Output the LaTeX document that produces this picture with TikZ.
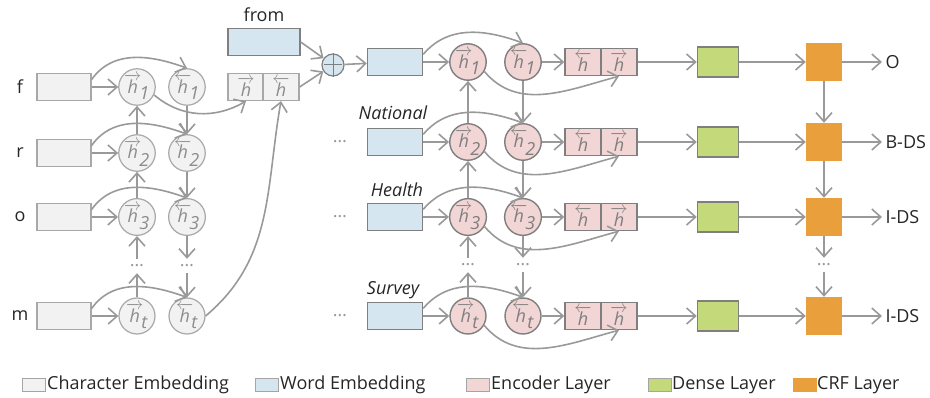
\documentclass[tikz,border=0pt]{standalone}
\usepackage{fontspec}
\setmainfont{Open Sans}
\usetikzlibrary{positioning,arrows.meta}

\definecolor{charfill}{HTML}{F2F2F2}
\definecolor{chardraw}{HTML}{A8A8A8}
\definecolor{chartext}{HTML}{8C8C8C}
\definecolor{wordfill}{HTML}{D6E6F1}
\definecolor{encfill}{HTML}{F2D5D5}
\definecolor{densefill}{HTML}{C3D97A}
\definecolor{crffill}{HTML}{E89F3C}
\definecolor{boxdraw}{HTML}{7F7F7F}
\definecolor{arrowgray}{HTML}{999999}
\definecolor{labeltext}{HTML}{262626}

\newcommand{\hf}[1]{$\overrightarrow{\textit{h}}_{\!\scriptscriptstyle\textit{#1}}$}
\newcommand{\hb}[1]{$\overleftarrow{\textit{h}}_{\!\scriptscriptstyle\textit{#1}}$}
\newcommand{\hfc}{$\overrightarrow{\textit{h}}$}
\newcommand{\hbc}{$\overleftarrow{\textit{h}}$}

\tikzset{
  charbox/.style={draw=chardraw, fill=charfill, line width=1.2pt, minimum width=54pt, minimum height=27pt, inner sep=0pt},
  charstate/.style={circle, draw=chardraw, fill=charfill, line width=1.2pt, minimum size=36pt, inner sep=0pt, text=chartext},
  charcell/.style={draw=chardraw, fill=charfill, line width=1.2pt, minimum width=36pt, minimum height=27pt, inner sep=0pt, text=chartext},
  wordbox/.style={draw=boxdraw, fill=wordfill, line width=1.4pt, minimum width=55pt, minimum height=27pt, inner sep=0pt},
  encstate/.style={circle, draw=boxdraw, fill=encfill, line width=1.4pt, minimum size=36pt, inner sep=0pt, text=boxdraw},
  enccell/.style={draw=boxdraw, fill=encfill, line width=1.4pt, minimum width=36pt, minimum height=27pt, inner sep=0pt, text=boxdraw},
  densebox/.style={draw=boxdraw, fill=densefill, line width=1.5pt, minimum width=41pt, minimum height=30pt, inner sep=0pt},
  crfbox/.style={fill=crffill, minimum width=36pt, minimum height=38pt, inner sep=0pt},
  dots/.style={text=arrowgray, minimum height=14pt, inner sep=0pt},
  letter/.style={text=labeltext},
  word/.style={text=labeltext, font=\fontsize{18}{21}\selectfont\itshape},
  legbox/.style={draw=boxdraw!70, line width=0.8pt, minimum width=23pt, minimum height=13pt, inner sep=0pt},
  legtext/.style={text=labeltext, anchor=west, inner sep=1pt},
  arr/.style={-{Straight Barb[length=9pt,width=16pt,line width=1.6pt]}}
}

\begin{document}
\begin{tikzpicture}[x=1pt,y=-1pt,on grid,font=\fontsize{18}{21}\selectfont,
  every edge/.append style={draw=arrowgray, line width=1.6pt, arr}]
\useasboundingbox (0,0) rectangle (930,398);

% character level
\node[letter] (lf) at (20,87) {f};
\node[letter] (lr) at (20,153) {r};
\node[letter] (lo) at (20,217) {o};
\node[letter] (lm) at (20,316) {m};

\node[charbox] (c1) at (64,87) {};
\node[charbox] (c2) at (64,153) {};
\node[charbox] (c3) at (64,217) {};
\node[charbox] (c4) at (64,316) {};

\node[charstate] (fa1) [right=73pt of c1] {\hf{1}};
\node[charstate] (fa2) [right=73pt of c2] {\hf{2}};
\node[charstate] (fa3) [right=73pt of c3] {\hf{3}};
\node[charstate] (fa4) [right=73pt of c4] {\hf{t}};
\node[charstate] (ba1) [right=50pt of fa1] {\hb{1}};
\node[charstate] (ba2) [right=50pt of fa2] {\hb{2}};
\node[charstate] (ba3) [right=50pt of fa3] {\hb{3}};
\node[charstate] (ba4) [right=50pt of fa4] {\hb{t}};
\node[dots] (fad) at (137,266) {\dots};
\node[dots] (bad) at (187,266) {\dots};

\node[charcell] (cl) at (246,87) {\hfc};
\node[charcell] (cr) at (281,87) {\hbc};

\node[wordbox, minimum width=72pt] (wf) at (264,42) {};
\node[letter] (lfrom) [above=27pt of wf] {from};
\node[circle, draw=boxdraw, fill=wordfill, line width=1.2pt, minimum size=22pt, inner sep=0pt] (pl) at (333,65) {};
\draw[boxdraw, line width=1pt, shorten >=3pt, shorten <=3pt] (pl.north) -- (pl.south) (pl.west) -- (pl.east);

% word level
\node[wordbox] (w1) at (395,62) {};
\node[wordbox] (w2) at (395,142) {};
\node[wordbox] (w3) at (395,217) {};
\node[wordbox] (w4) at (395,316) {};
\node[dots] (wd2) [left=55pt of w2] {\dots};
\node[dots] (wd3) [left=55pt of w3] {\dots};
\node[dots] (wd4) [left=55pt of w4] {\dots};
\node[word] (national) at (393,113) {National};
\node[word] (health) at (397,190) {Health};
\node[word] (survey) at (393,290) {Survey};

\node[encstate] (ef1) [right=73pt of w1] {\hf{1}};
\node[encstate] (ef2) [right=73pt of w2] {\hf{2}};
\node[encstate] (ef3) [right=73pt of w3] {\hf{3}};
\node[encstate] (ef4) [right=73pt of w4] {\hf{t}};
\node[encstate] (eb1) [right=55pt of ef1] {\hb{1}};
\node[encstate] (eb2) [right=55pt of ef2] {\hb{2}};
\node[encstate] (eb3) [right=55pt of ef3] {\hb{3}};
\node[encstate] (eb4) [right=55pt of ef4] {\hb{t}};
\node[dots] (efd) at (468,265) {\dots};
\node[dots] (ebd) at (523,265) {\dots};

\node[enccell] (el1) [right=60pt of eb1] {\hbc};
\node[enccell] (el2) [right=60pt of eb2] {\hbc};
\node[enccell] (el3) [right=60pt of eb3] {\hbc};
\node[enccell] (el4) [right=60pt of eb4] {\hbc};
\node[enccell] (er1) [right=36pt of el1] {\hfc};
\node[enccell] (er2) [right=36pt of el2] {\hfc};
\node[enccell] (er3) [right=36pt of el3] {\hfc};
\node[enccell] (er4) [right=36pt of el4] {\hfc};

\node[densebox] (d1) at (718,62) {};
\node[densebox] (d2) at (718,142) {};
\node[densebox] (d3) at (718,217) {};
\node[densebox] (d4) at (718,316) {};

\node[crfbox] (crf1) [right=106pt of d1] {};
\node[crfbox] (crf2) [right=106pt of d2] {};
\node[crfbox] (crf3) [right=106pt of d3] {};
\node[crfbox] (crf4) [right=106pt of d4] {};
\node[dots] (crfd) at (824,265) {\dots};

\node[letter, anchor=west] (t1) at (882,62) {O};
\node[letter, anchor=west] (t2) at (882,142) {B-DS};
\node[letter, anchor=west] (t3) at (882,217) {I-DS};
\node[letter, anchor=west] (t4) at (882,316) {I-DS};

% character connections
\path
  (c1) edge (fa1) (c2) edge (fa2) (c3) edge (fa3) (c4) edge (fa4)
  (fa2) edge (fa1) (fa3) edge (fa2) (fad) edge (fa3) (fa4) edge (fad)
  (ba1) edge (ba2) (ba2) edge (ba3) (ba3) edge (bad) (bad) edge (ba4)
  (c1.15) edge[out=55,in=160] (ba1.north)
  (c2.15) edge[out=55,in=160] (ba2.north)
  (c3.15) edge[out=55,in=160] (ba3.north)
  (c4.15) edge[out=55,in=160] (ba4.north)
  (fa1.-25) edge[out=-40,in=-150] (cl.south)
  (ba4.east) edge[out=40,in=-100] (cr.south)
  (wf.east) edge (pl)
  (cr.east) edge (pl)
  (pl) edge (w1);

% word connections
\path
  (w1) edge (ef1) (w2) edge (ef2) (w3) edge (ef3) (w4) edge (ef4)
  (ef2) edge (ef1) (ef3) edge (ef2) (efd) edge (ef3) (ef4) edge (efd)
  (eb1) edge (eb2) (eb2) edge (eb3) (eb3) edge (ebd) (ebd) edge (eb4)
  (w1.15) edge[out=50,in=160] (eb1.north)
  (w2.15) edge[out=50,in=160] (eb2.north)
  (w3.15) edge[out=50,in=160] (eb3.north)
  (w4.15) edge[out=50,in=160] (eb4.north)
  (ef1.-30) edge[out=-50,in=-165] (er1.south)
  (ef2.-30) edge[out=-50,in=-165] (er2.south)
  (ef3.-30) edge[out=-50,in=-165] (er3.south)
  (ef4.-30) edge[out=-50,in=-165] (er4.south)
  (eb1) edge (el1) (eb2) edge (el2) (eb3) edge (el3) (eb4) edge (el4)
  (er1) edge (d1) (er2) edge (d2) (er3) edge (d3) (er4) edge (d4)
  (d1) edge (crf1) (d2) edge (crf2) (d3) edge (crf3) (d4) edge (crf4)
  (crf1) edge (t1) (crf2) edge (t2) (crf3) edge (t3) (crf4) edge (t4)
  (crf1) edge (crf2) (crf2) edge (crf3) (crf3) edge (crfd) (crfd) edge (crf4);

% legend
\node[legbox, fill=charfill] (lb1) at (34,385) {};
\node[legtext] (lt1) at (46,385) {Character Embedding};
\node[legbox, fill=wordfill] (lb2) at (267,385) {};
\node[legtext] (lt2) at (279,385) {Word Embedding};
\node[legbox, fill=encfill] (lb3) at (478,385) {};
\node[legtext] (lt3) at (490,385) {Encoder Layer};
\node[legbox, fill=densefill] (lb4) at (660,385) {};
\node[legtext] (lt4) at (671,385) {Dense Layer};
\node[legbox, fill=crffill, draw=crffill] (lb5) at (805,385) {};
\node[legtext] (lt5) at (816,385) {CRF Layer};
\end{tikzpicture}
\end{document}
